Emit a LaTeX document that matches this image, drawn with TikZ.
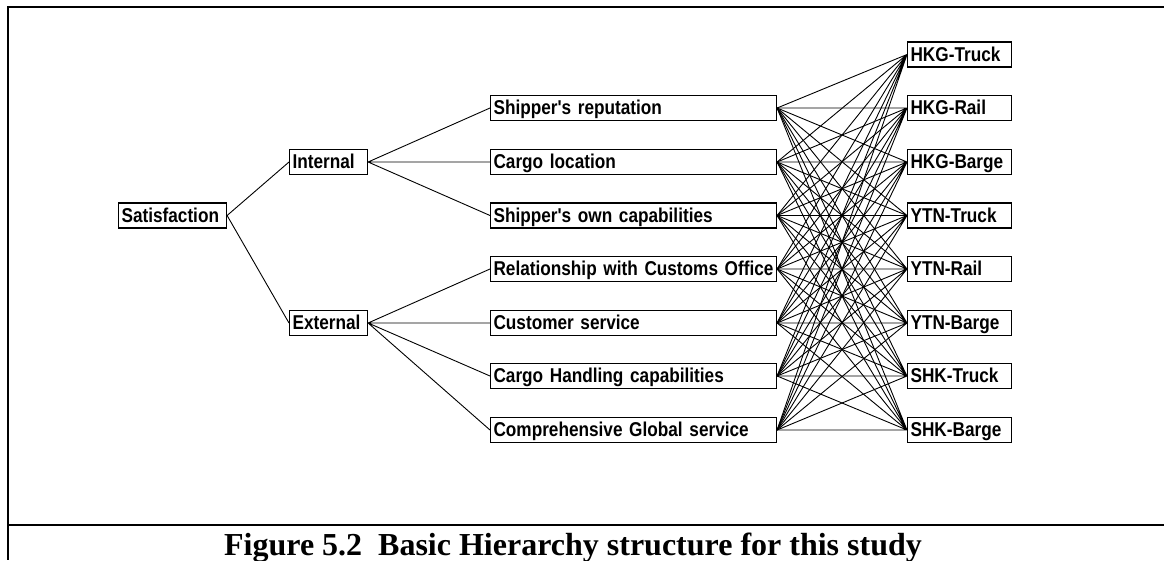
\documentclass[tikz,border=0pt]{standalone}
\usepackage{fontspec}
\newfontfamily\boxfont{Liberation Sans}[FakeStretch=0.86]
\newfontfamily\capfont{Liberation Serif}
\tikzset{
  box/.style={draw, line width=1.1pt, anchor=west, text width=#1, align=left,
    inner xsep=3pt, inner ysep=0pt, minimum height=25pt,
    text height=17pt, text depth=4pt,
    font=\boxfont\bfseries\fontsize{20}{22}\selectfont},
  link/.style={line width=0.9pt}
}
\begin{document}
\begin{tikzpicture}[x=1pt, y=-1pt]
\useasboundingbox (0,0) rectangle (1164,560);

% Frame and caption
\draw[line width=2.5pt] (1164,7) -- (8,7) -- (8,560);
\draw[line width=2pt] (8,525) -- (1164,525);
\node[anchor=base, font=\capfont\bfseries\fontsize{32}{36}\selectfont] (caption) at (573,555) {Figure 5.2\ \ Basic Hierarchy structure for this study};

% Goal and criteria
\node[box=102] (sat) at (118,215.5) {Satisfaction};
\node[box=72] (internal) at (289,162) {Internal};
\node[box=72] (external) at (289,323) {External};

% Sub-criteria
\node[box=280] (rep) at (490,108) {Shipper's reputation};
\node[box=280] (loc) at (490,162) {Cargo location};
\node[box=280] (own) at (490,215.5) {Shipper's own capabilities};
\node[box=280] (customs) at (490,269) {Relationship with Customs Office};
\node[box=280] (service) at (490,323) {Customer service};
\node[box=280] (handling) at (490,376) {Cargo Handling capabilities};
\node[box=280] (global) at (490,430) {Comprehensive Global service};

% Alternatives
\node[box=98] (hkgtruck) at (907,54.5) {HKG-Truck};
\node[box=98] (hkgrail) at (907,108) {HKG-Rail};
\node[box=98] (hkgbarge) at (907,162) {HKG-Barge};
\node[box=98] (ytntruck) at (907,215.5) {YTN-Truck};
\node[box=98] (ytnrail) at (907,269) {YTN-Rail};
\node[box=98] (ytnbarge) at (907,323) {YTN-Barge};
\node[box=98] (shktruck) at (907,376) {SHK-Truck};
\node[box=98] (shkbarge) at (907,430) {SHK-Barge};

% Tree links
\draw[link] (sat.east) -- (internal.west) (sat.east) -- (external.west);
\draw[link] (internal.east) -- (rep.west) (internal.east) -- (loc.west) (internal.east) -- (own.west);
\draw[link] (external.east) -- (customs.west) (external.east) -- (service.west) (external.east) -- (handling.west) (external.east) -- (global.west);

% Every sub-criterion to every alternative
\draw[link] (rep.east) -- (hkgtruck.west) (loc.east) -- (hkgtruck.west) (own.east) -- (hkgtruck.west) (customs.east) -- (hkgtruck.west) (service.east) -- (hkgtruck.west) (handling.east) -- (hkgtruck.west) (global.east) -- (hkgtruck.west);
\draw[link] (rep.east) -- (hkgrail.west) (loc.east) -- (hkgrail.west) (own.east) -- (hkgrail.west) (customs.east) -- (hkgrail.west) (service.east) -- (hkgrail.west) (handling.east) -- (hkgrail.west) (global.east) -- (hkgrail.west);
\draw[link] (rep.east) -- (hkgbarge.west) (loc.east) -- (hkgbarge.west) (own.east) -- (hkgbarge.west) (customs.east) -- (hkgbarge.west) (service.east) -- (hkgbarge.west) (handling.east) -- (hkgbarge.west) (global.east) -- (hkgbarge.west);
\draw[link] (rep.east) -- (ytntruck.west) (loc.east) -- (ytntruck.west) (own.east) -- (ytntruck.west) (customs.east) -- (ytntruck.west) (service.east) -- (ytntruck.west) (handling.east) -- (ytntruck.west) (global.east) -- (ytntruck.west);
\draw[link] (rep.east) -- (ytnrail.west) (loc.east) -- (ytnrail.west) (own.east) -- (ytnrail.west) (customs.east) -- (ytnrail.west) (service.east) -- (ytnrail.west) (handling.east) -- (ytnrail.west) (global.east) -- (ytnrail.west);
\draw[link] (rep.east) -- (ytnbarge.west) (loc.east) -- (ytnbarge.west) (own.east) -- (ytnbarge.west) (customs.east) -- (ytnbarge.west) (service.east) -- (ytnbarge.west) (handling.east) -- (ytnbarge.west) (global.east) -- (ytnbarge.west);
\draw[link] (rep.east) -- (shktruck.west) (loc.east) -- (shktruck.west) (own.east) -- (shktruck.west) (customs.east) -- (shktruck.west) (service.east) -- (shktruck.west) (handling.east) -- (shktruck.west) (global.east) -- (shktruck.west);
\draw[link] (rep.east) -- (shkbarge.west) (loc.east) -- (shkbarge.west) (own.east) -- (shkbarge.west) (customs.east) -- (shkbarge.west) (service.east) -- (shkbarge.west) (handling.east) -- (shkbarge.west) (global.east) -- (shkbarge.west);
\end{tikzpicture}
\end{document}
